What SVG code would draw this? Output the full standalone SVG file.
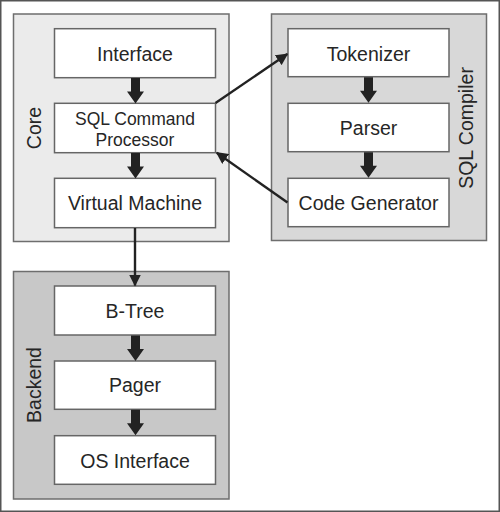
<svg xmlns="http://www.w3.org/2000/svg" width="500" height="512" viewBox="0 0 500 512">
<defs>
<style>
.frame{fill:#fff;stroke:#555;stroke-width:1.5}
.grp{stroke:#6e6e6e;stroke-width:1.5}
.core{fill:#ebebeb}
.comp{fill:#d8d8d8}
.back{fill:#c8c8c8}
.box{fill:#fff;stroke:#666;stroke-width:1.5}
text{font-family:"Liberation Sans",Arial,sans-serif;font-size:19.5px;fill:#262626;text-anchor:middle}
text.two{font-size:17.5px}
.thin{stroke:#222;stroke-width:2.4;fill:none}
.fat{fill:#222}
</style>
<marker id="ah" viewBox="0 0 12 12" refX="11" refY="6" markerWidth="12" markerHeight="12" markerUnits="userSpaceOnUse" orient="auto">
<path d="M0,0 L12,6 L0,12 Z" fill="#222"/>
</marker>
<path id="fat" d="M-4.5,0 H4.5 V13.5 H8.5 L0,25.5 L-8.5,13.5 H-4.5 Z"/>
</defs>
<rect class="frame" x="0.75" y="0.75" width="498.5" height="510.5"/>

<g id="core">
<rect class="grp core" x="13.5" y="14" width="215.5" height="227.5"/>
<text transform="translate(40.5,128) rotate(-90)">Core</text>
</g>
<g id="sql-compiler">
<rect class="grp comp" x="271.5" y="14" width="215" height="226.5"/>
<text transform="translate(473,128) rotate(-90)">SQL Compiler</text>
</g>
<g id="backend">
<rect class="grp back" x="13.5" y="271.5" width="215.5" height="227.5"/>
<text transform="translate(40.5,385) rotate(-90)">Backend</text>
</g>

<g id="interface"><rect class="box" x="54.5" y="28.7" width="161" height="49"/><text x="135" y="60.5">Interface</text></g>
<g id="sql-command-processor"><rect class="box" x="54.5" y="103.3" width="161" height="49.4"/><text class="two" x="135" y="125">SQL Command</text><text class="two" x="135" y="145.5">Processor</text></g>
<g id="virtual-machine"><rect class="box" x="54.5" y="178.3" width="161" height="49.4"/><text x="135" y="210">Virtual Machine</text></g>
<g id="tokenizer"><rect class="box" x="288" y="28.7" width="161" height="48"/><text x="368.5" y="60.5">Tokenizer</text></g>
<g id="parser"><rect class="box" x="288" y="103.3" width="161" height="48.4"/><text x="368.5" y="135">Parser</text></g>
<g id="code-generator"><rect class="box" x="288" y="178.3" width="161" height="48.4"/><text x="368.5" y="210">Code Generator</text></g>
<g id="b-tree"><rect class="box" x="54.5" y="286" width="161" height="49"/><text x="135" y="318">B-Tree</text></g>
<g id="pager"><rect class="box" x="54.5" y="361" width="161" height="48.3"/><text x="135" y="391.5">Pager</text></g>
<g id="os-interface"><rect class="box" x="54.5" y="435.7" width="161" height="48.6"/><text x="135" y="468">OS Interface</text></g>

<g id="connectors">
<use href="#fat" class="fat" x="135.5" y="78"/>
<use href="#fat" class="fat" x="135.5" y="153"/>
<use href="#fat" class="fat" x="368.5" y="77.2"/>
<use href="#fat" class="fat" x="368.5" y="152.2"/>
<use href="#fat" class="fat" x="135.5" y="335.5"/>
<use href="#fat" class="fat" x="135.5" y="409.8"/>
<line class="thin" x1="135" y1="228" x2="135" y2="285.5" marker-end="url(#ah)"/>
<line class="thin" x1="215.5" y1="103" x2="287.3" y2="54" marker-end="url(#ah)"/>
<line class="thin" x1="287.5" y1="202.5" x2="216.7" y2="152.7" marker-end="url(#ah)"/>
</g>
</svg>
